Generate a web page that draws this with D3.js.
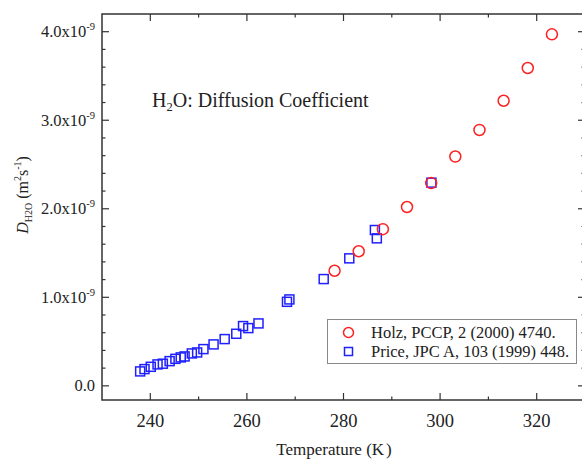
<!DOCTYPE html>
<html>
<head>
<meta charset="utf-8">
<script src="https://cdn.jsdelivr.net/npm/d3@7"></script>
<style>
  html, body { margin: 0; padding: 0; background: #fff; }
  svg { display: block; }
</style>
</head>
<body>
<svg id="chart" width="582" height="461" font-family="Liberation Serif"></svg>
<script>
// Self-diffusion coefficient of water, units of 1e-9 m^2/s
const holzT = [278.15, 283.15, 288.15, 293.15, 298.15, 303.15, 308.15, 313.15, 318.15, 323.15];
const holzD = [1.30, 1.52, 1.77, 2.02, 2.29, 2.59, 2.89, 3.22, 3.59, 3.97];

const priceT = [237.9, 238.8, 240.1, 241.5, 242.6, 244.0, 245.2, 246.3, 247.1, 248.6, 249.7, 251.0, 253.1, 255.4, 257.8, 259.2, 260.3, 262.4, 268.3, 268.8, 275.9, 281.2, 286.5, 286.9, 298.2];
const priceD = [0.163, 0.189, 0.215, 0.242, 0.250, 0.279, 0.305, 0.321, 0.332, 0.366, 0.377, 0.415, 0.468, 0.528, 0.588, 0.675, 0.652, 0.705, 0.949, 0.976, 1.206, 1.440, 1.760, 1.666, 2.295];

const xTicks = [240, 260, 280, 300, 320];
const yTicks = [0, 1, 2, 3, 4];
const legendLabels = ["Holz, PCCP, 2 (2000) 4740.", "Price, JPC A, 103 (1999) 448."];

const plotL = 102, plotT = 14, plotR = 585, plotB = 400;
const axisColor = "#333";
const textColor = "#222";

const svg = d3.select("#chart");
const x = d3.scaleLinear().domain([230, 330]).range([plotL, plotR]);
const y = d3.scaleLinear().domain([-0.16, 4.2]).range([plotB, plotT]);

// Frame
svg.append("rect")
  .attr("x", plotL).attr("y", plotT)
  .attr("width", plotR - plotL).attr("height", plotB - plotT)
  .attr("fill", "none").attr("stroke", axisColor).attr("stroke-width", 1.5);

// Inward ticks on all four sides
const xMinor = d3.range(240, 330, 10).filter(v => !xTicks.includes(v));
const yMinor = d3.range(0, 4.01, 0.2).map(v => +v.toFixed(1)).filter(v => !yTicks.includes(v));
const tickG = svg.append("g").attr("stroke", axisColor).attr("stroke-width", 1.2);
function hTicks(vals, len) {
  vals.forEach(v => {
    tickG.append("line").attr("x1", x(v)).attr("x2", x(v)).attr("y1", plotB).attr("y2", plotB - len);
    tickG.append("line").attr("x1", x(v)).attr("x2", x(v)).attr("y1", plotT).attr("y2", plotT + len);
  });
}
function vTicks(vals, len) {
  vals.forEach(v => {
    tickG.append("line").attr("y1", y(v)).attr("y2", y(v)).attr("x1", plotL).attr("x2", plotL + len);
    tickG.append("line").attr("y1", y(v)).attr("y2", y(v)).attr("x1", plotR).attr("x2", plotR - len);
  });
}
hTicks(xTicks, 7); hTicks(xMinor, 3.5);
vTicks(yTicks, 7); vTicks(yMinor, 3.5);

// X tick labels
svg.append("g").selectAll("text").data(xTicks).join("text")
  .attr("x", d => x(d)).attr("y", 427)
  .attr("text-anchor", "middle").attr("font-size", 18.5).attr("fill", textColor)
  .text(d => d);

// Y tick labels with scientific exponent
const yl = svg.append("g").selectAll("text").data(yTicks).join("text")
  .attr("x", 95).attr("y", d => y(d) + 5.5)
  .attr("text-anchor", "end").attr("font-size", 16.5).attr("fill", textColor);
yl.each(function(d) {
  const t = d3.select(this);
  if (d === 0) { t.text("0.0"); return; }
  t.append("tspan").text(d.toFixed(1) + "x10");
  t.append("tspan").attr("font-size", 10.5).attr("dy", -7).text("-9");
});

// Axis titles
const xt = svg.append("text")
  .attr("x", 334).attr("y", 455)
  .attr("text-anchor", "middle").attr("font-size", 17).attr("fill", textColor);
xt.append("tspan").text("Temperature (K");
xt.append("tspan").attr("dx", 2).text(")");

const yt = svg.append("text")
  .attr("transform", "translate(28,195) rotate(-90)")
  .attr("text-anchor", "middle").attr("font-size", 16).attr("fill", textColor);
yt.append("tspan").attr("font-style", "italic").text("D");
yt.append("tspan").attr("font-size", 10).attr("dy", 4).text("H2O");
yt.append("tspan").attr("dy", -4).text(" (m");
yt.append("tspan").attr("font-size", 10).attr("dy", -7).text("2");
yt.append("tspan").attr("dy", 7).text("s");
yt.append("tspan").attr("font-size", 10).attr("dy", -7).text("-1");
yt.append("tspan").attr("dy", 7).text(")");

// Annotation
const ann = svg.append("text").attr("x", 152).attr("y", 107)
  .attr("font-size", 20).attr("fill", textColor);
ann.append("tspan").text("H");
ann.append("tspan").attr("font-size", 12.5).attr("dy", 4).text("2");
ann.append("tspan").attr("dy", -4).text("O: Diffusion Coefficient");

// Data: squares first, circles drawn on top
const sq = 9;
svg.append("g").selectAll("rect").data(priceT.map((t, i) => [t, priceD[i]])).join("rect")
  .attr("x", d => x(d[0]) - sq / 2).attr("y", d => y(d[1]) - sq / 2)
  .attr("width", sq).attr("height", sq)
  .attr("fill", "none").attr("stroke", "#2020ff").attr("stroke-width", 1.5);

svg.append("g").selectAll("circle").data(holzT.map((t, i) => [t, holzD[i]])).join("circle")
  .attr("cx", d => x(d[0])).attr("cy", d => y(d[1])).attr("r", 5.5)
  .attr("fill", "none").attr("stroke", "#ff2020").attr("stroke-width", 1.5);

// Legend
const lg = svg.append("g");
lg.append("rect").attr("x", 327.5).attr("y", 319.5).attr("width", 249).attr("height", 44)
  .attr("fill", "#fff").attr("stroke", "#888").attr("stroke-width", 1);
lg.append("circle").attr("cx", 348.5).attr("cy", 332.5).attr("r", 5)
  .attr("fill", "none").attr("stroke", "#ff2020").attr("stroke-width", 1.5);
lg.append("rect").attr("x", 344.5).attr("y", 347.5).attr("width", 8).attr("height", 8)
  .attr("fill", "none").attr("stroke", "#2020ff").attr("stroke-width", 1.5);
lg.selectAll("text").data(legendLabels).join("text")
  .attr("x", 371).attr("y", (d, i) => 338 + i * 19)
  .attr("font-size", 16.5).attr("fill", textColor)
  .text(d => d);
</script>
</body>
</html>
